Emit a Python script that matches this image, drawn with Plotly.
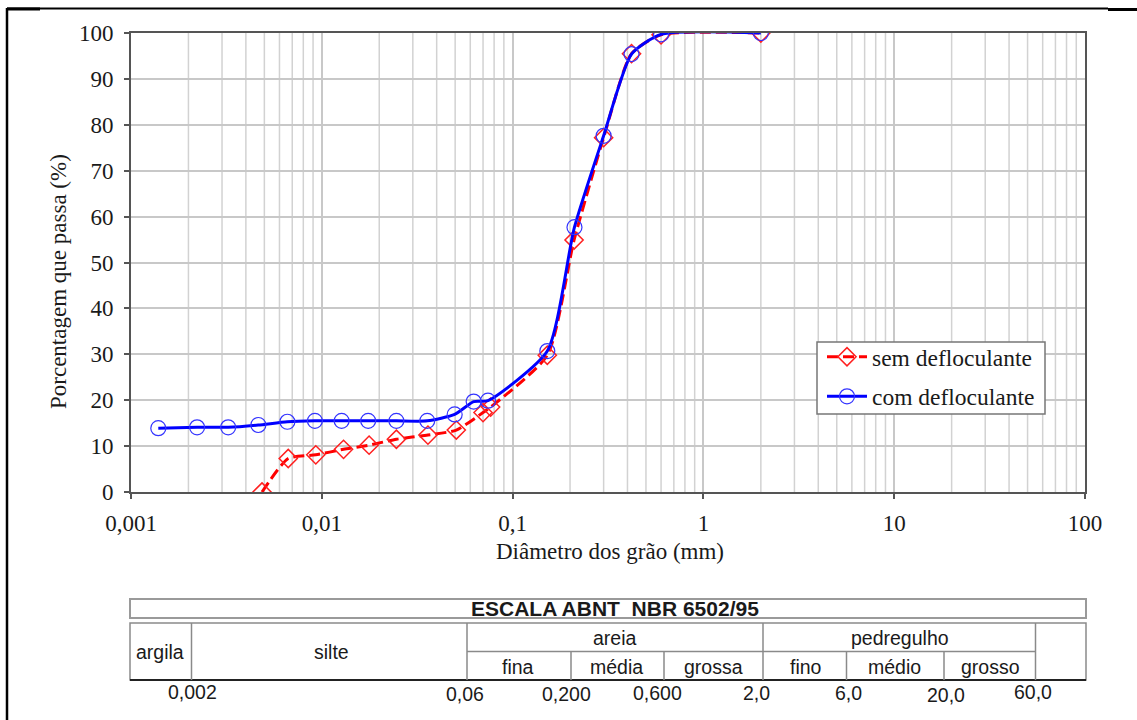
import plotly.graph_objects as go

# ---------------- data ----------------
sem_diam = [0.00486, 0.00667, 0.0093, 0.0130, 0.0177, 0.0246, 0.0360, 0.0507, 0.0700, 0.0767,
            0.152, 0.210, 0.300, 0.420, 0.600, 2.00]
sem_pct = [0.0, 7.3, 8.1, 9.3, 10.2, 11.5, 12.4, 13.5, 17.3, 18.5,
           29.8, 54.9, 77.2, 95.5, 99.6, 100.0]

com_diam = [0.00139, 0.00222, 0.00323, 0.00465, 0.0066, 0.0092, 0.0127, 0.0175, 0.0246, 0.0357,
            0.0497, 0.0625, 0.0743, 0.152, 0.211, 0.300, 0.420, 0.600, 2.00]
com_pct = [13.9, 14.1, 14.1, 14.6, 15.3, 15.5, 15.5, 15.5, 15.5, 15.5,
           16.9, 19.7, 19.9, 30.7, 57.7, 77.6, 95.4, 99.7, 100.0]

x_tickvals = [0.001, 0.01, 0.1, 1, 10, 100]
x_ticktext = ["0,001", "0,01", "0,1", "1", "10", "100"]
y_tickvals = list(range(0, 101, 10))

# ABNT scale table
scale_title = "ESCALA ABNT\u00a0\u00a0NBR 6502/95"
main_classes = ["argila", "silte", "areia", "pedregulho"]
sub_classes = ["fina", "média", "grossa", "fino", "médio", "grosso"]
limit_labels = ["0,002", "0,06", "0,200", "0,600", "2,0", "6,0", "20,0", "60,0"]

# ---------------- layout helpers (pixel -> paper) ----------------
W, H = 1137, 720
L, R, T, B = 131, 1085, 33, 492


def px(x):
    return (x - L) / (R - L)


def py(y):
    return (B - y) / (B - T)


SERIF = "Liberation Serif, Times New Roman, serif"
SANS = "Liberation Sans, Arial, sans-serif"
TXT = "#1a1a1a"
FS = 23

fig = go.Figure()

fig.add_trace(go.Scatter(
    x=sem_diam, y=sem_pct, name="sem defloculante", mode="lines+markers",
    line=dict(color="#ff0000", width=3, dash="11px,5px", shape="spline", smoothing=0.6),
    marker=dict(symbol="diamond-open", size=14, color="#ff2020", line=dict(width=1.5)),
    legendgroup="a",
))
fig.add_trace(go.Scatter(
    x=com_diam, y=com_pct, name="com defloculante", mode="lines+markers",
    line=dict(color="#0000ff", width=3, shape="spline", smoothing=0.6),
    marker=dict(symbol="circle-open", size=15, color="#3333ff", line=dict(width=1.2)),
    legendgroup="b",
))

shapes = []
# minor vertical grid lines of the log axis
for dec in [0.001, 0.01, 0.1, 1, 10]:
    for k in range(2, 10):
        shapes.append(dict(type="line", xref="x", yref="paper", x0=k * dec, x1=k * dec,
                           y0=0, y1=1, line=dict(color="#d2d2d2", width=1.5), layer="below"))


def hline(x0, x1, y, color="#8a8a8a", width=1.5):
    shapes.append(dict(type="line", xref="paper", yref="paper", x0=px(x0), x1=px(x1),
                       y0=py(y), y1=py(y), line=dict(color=color, width=width)))


def vline(x, y0, y1, color="#8a8a8a", width=1.5):
    shapes.append(dict(type="line", xref="paper", yref="paper", x0=px(x), x1=px(x),
                       y0=py(y0), y1=py(y1), line=dict(color=color, width=width)))


def rect(x0, y0, x1, y1, color="#8a8a8a", width=2, fill=None):
    d = dict(type="rect", xref="paper", yref="paper", x0=px(x0), x1=px(x1),
             y0=py(y1), y1=py(y0), line=dict(color=color, width=width))
    if fill:
        d["fillcolor"] = fill
        d["layer"] = "above"
    shapes.append(d)


# page frame
vline(7, 8, 720, color="#000000", width=2.5)
hline(7, 1108, 8.5, color="#000000", width=2)
hline(7, 40, 9, color="#000000", width=3)
hline(1108, 1137, 9.5, color="#000000", width=3)

# legend box
rect(817, 342, 1045, 414, color="#777777", width=1.5, fill="white")

# table
rect(130, 599, 1086, 618, color="#9a9a9a", width=2)
rect(130, 623, 1086, 680, color="#8a8a8a", width=1.5)
hline(130, 1086, 680, color="#222222", width=2)
vline(191.5, 623, 680)
vline(467, 623, 680)
vline(763, 623, 680)
vline(1035.5, 623, 680)
hline(467, 1035.5, 651.5)
for xv in [571, 664, 846.5, 944]:
    vline(xv, 651.5, 680)

annotations = []


def text(x, y, s, size=19.5, font=SANS, bold=False, color=TXT, angle=0):
    annotations.append(dict(xref="paper", yref="paper", x=px(x), y=py(y), text=f"<b>{s}</b>" if bold else s,
                            showarrow=False, xanchor="center", yanchor="middle", textangle=angle,
                            font=dict(family=font, size=size, color=color)))


text(615, 608.5, scale_title, size=21, bold=True)
main_pos = [(160, 652), (331, 652), (615, 637.5), (900, 637.5)]
for (xx, yy), s in zip(main_pos, main_classes):
    text(xx, yy, s)
sub_pos = [518, 616, 713, 806, 894, 990]
for xx, s in zip(sub_pos, sub_classes):
    text(xx, 666.5, s)
lim_pos = [(192, 692), (465, 694), (566, 694), (657, 693), (756, 693), (848, 693), (946, 695), (1033, 692)]
for (xx, yy), s in zip(lim_pos, limit_labels):
    text(xx, yy, s)

# axis titles
text(610, 551, "Diâmetro dos grão (mm)", size=FS, font=SERIF)
text(58, 282, "Porcentagem que passa (%)", size=FS, font=SERIF, angle=-90)

fig.update_layout(
    width=W, height=H,
    margin=dict(l=L, r=W - R, t=T, b=H - B),
    paper_bgcolor="white", plot_bgcolor="white",
    shapes=shapes, annotations=annotations,
    xaxis=dict(type="log", range=[-3, 2], tickvals=x_tickvals, ticktext=x_ticktext,
               showgrid=True, gridcolor="#c8c8c8", gridwidth=1.5,
               showline=True, linecolor="#555555", linewidth=2, mirror=True,
               ticks="outside", ticklen=5, tickcolor="#555555", tickwidth=1.5,
               ticklabelstandoff=4,
               tickfont=dict(family=SERIF, size=FS, color=TXT), zeroline=False),
    yaxis=dict(range=[0, 100], tickvals=y_tickvals,
               showgrid=True, gridcolor="#c8c8c8", gridwidth=1.5,
               showline=True, linecolor="#555555", linewidth=2, mirror=True,
               ticks="outside", ticklen=5, tickcolor="#555555", tickwidth=1.5,
               ticklabelstandoff=6,
               tickfont=dict(family=SERIF, size=FS, color=TXT), zeroline=False),
    legend=dict(x=px(822), y=py(335), xanchor="left", yanchor="top",
                bgcolor="rgba(0,0,0,0)", borderwidth=0,
                font=dict(family=SERIF, size=23.5, color=TXT),
                tracegroupgap=6, itemwidth=40),
    showlegend=True,
)

fig.write_html("out.html")
